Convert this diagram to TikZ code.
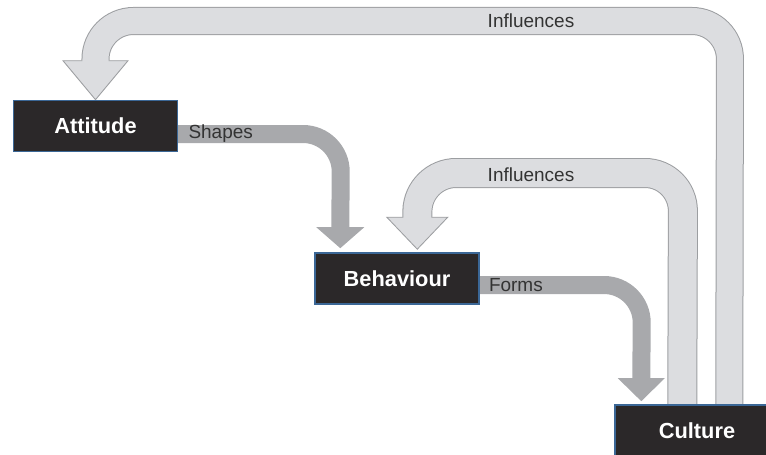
\documentclass[tikz,border=0pt]{standalone}
\usepackage{fontspec}
\setmainfont{Liberation Sans}
\usepackage{tikz}
\usetikzlibrary{positioning,calc,backgrounds}
\definecolor{BoxDark}{HTML}{2B2829}
\definecolor{BoxEdge}{HTML}{3B6796}
\definecolor{BandLight}{HTML}{DCDDE0}
\definecolor{BandLine}{HTML}{9C9EA1}
\definecolor{BandDark}{HTML}{A8A9AC}
\definecolor{LabelGray}{HTML}{333333}

\tikzset{
  stage/.style={draw=BoxEdge, line width=1pt, fill=BoxDark, text=white,
    font=\fontsize{15.5}{18}\selectfont\bfseries,
    minimum width=4.1cm, minimum height=1.28cm, inner sep=0pt},
  flowlabel/.style={font=\fontsize{13.5}{16}\selectfont, text=LabelGray, inner sep=0pt},
  bandedge/.style={draw=BandLine, rounded corners=0.95cm},
  bandfill/.style={draw=BandLight, rounded corners=0.95cm},
  bandhead/.style={fill=BandLight, draw=BandLine, line width=0.6pt, line join=miter},
  solidband/.style={draw=BandDark, line width=0.45cm, rounded corners=0.95cm},
}

\begin{document}
\begin{tikzpicture}[x=0.025cm, y=-0.025cm]
  \useasboundingbox (0,0) rectangle (766,454);

  % the three stages
  \node[stage] (att) at (95.5,126) {Attitude};
  \node[stage] (beh) at (397,278.5) {Behaviour};
  \node[stage] (cul) at (697,430.5) {Culture};

  \begin{scope}[on background layer]
    % culture back to attitude
    \draw[bandedge, line width=0.7cm] ($(cul.north west)+(115,0)$) -- (730,21) -- (95.5,21) -- ($(att.north)+(0,-39)$);
    \draw[bandhead] ($(att.north)+(-32.5,-39)$) -- (att.north) -- ($(att.north)+(32.5,-39)$) -- cycle;
    \draw[bandfill, line width=0.65cm] ($(cul.north west)+(115,0)$) -- (730,21) -- (95.5,21) -- ($(att.north)+(0,-36)$);

    % culture back to behaviour
    \draw[bandedge, line width=0.75cm] ($(cul.north west)+(68,0)$) -- (683,173) -- (418,173) -- ($(beh.north west)+(103,-35)$);
    \draw[bandhead] ($(beh.north west)+(72.5,-35)$) -- ($(beh.north west)+(103,-3)$) -- ($(beh.north west)+(133.5,-35)$) -- cycle;
    \draw[bandfill, line width=0.7cm] ($(cul.north west)+(68,0)$) -- (683,173) -- (418,173) -- ($(beh.north west)+(103,-32)$);

    % attitude shapes behaviour
    \draw[solidband] (att.east |- 0,134) -- (341,134) -- ($(beh.north west)+(26,-24)$);
    \fill[BandDark] ($(beh.north west)+(2,-25)$) -- ($(beh.north west)+(26,-4)$) -- ($(beh.north west)+(50,-25)$) -- cycle;

    % behaviour forms culture
    \draw[solidband] (beh.east |- 0,285) -- (642,285) -- ($(cul.north west)+(27,-25)$);
    \fill[BandDark] ($(cul.north west)+(3.5,-26)$) -- ($(cul.north west)+(27,-3)$) -- ($(cul.north west)+(50.5,-26)$) -- cycle;
  \end{scope}

  % labels on the bands
  \node[flowlabel, anchor=west] (shapeslbl) at ($(att.east)+(10,8)$) {Shapes};
  \node[flowlabel, anchor=west] (formslbl) at ($(beh.east)+(9,7)$) {Forms};
  \node[flowlabel] (outerlbl) at (531,21) {Influences};
  \node[flowlabel] (innerlbl) at (531,175) {Influences};
\end{tikzpicture}
\end{document}
